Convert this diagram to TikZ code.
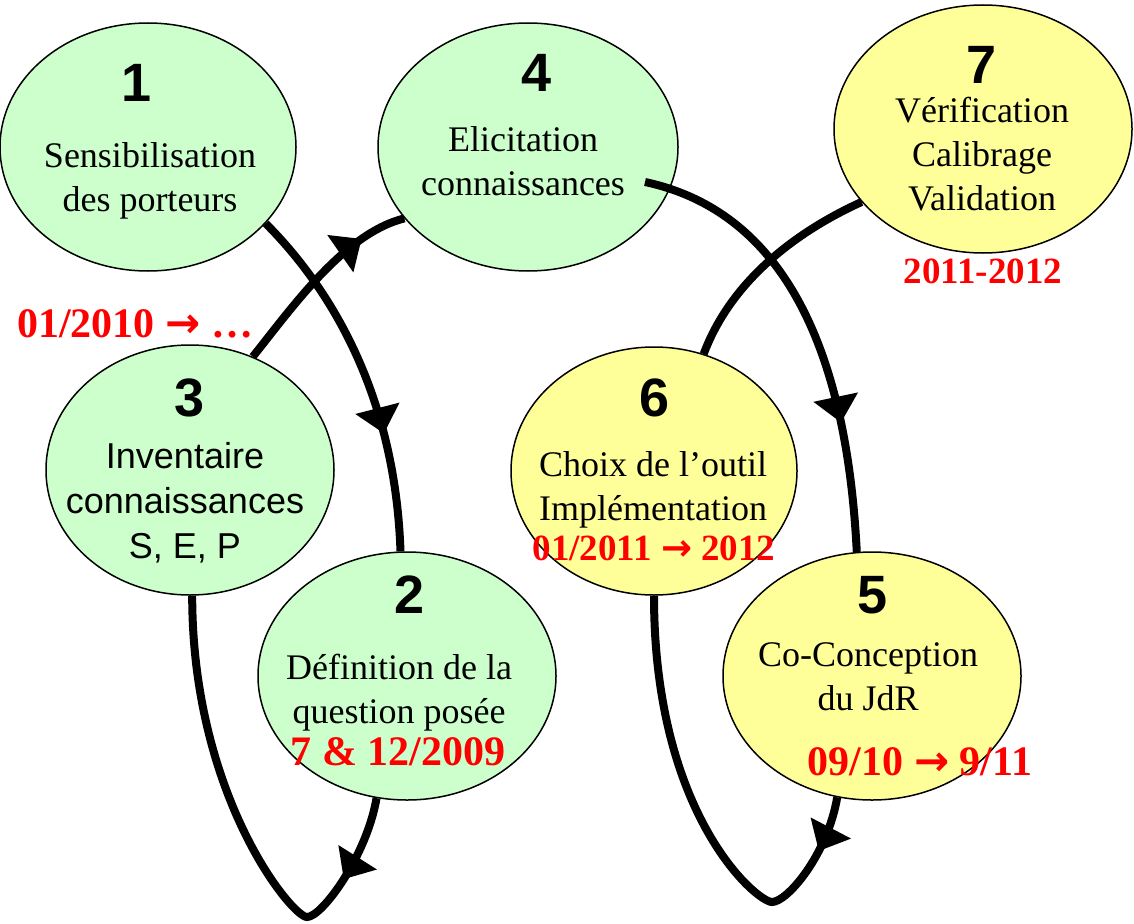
\documentclass[tikz,border=0pt]{standalone}
\usepackage{fontspec}
\setmainfont{Liberation Serif}
\newfontfamily\arialfont{Liberation Sans}
\newfontfamily\symbfont{DejaVu Sans}
\usetikzlibrary{shapes.geometric,arrows.meta,decorations.markings}

\definecolor{paleGreen}{HTML}{CCFFCC}
\definecolor{paleYellow}{HTML}{FFFF99}
\definecolor{dateRed}{HTML}{FF0000}

\newcommand{\toarrow}{{\symbfont\bfseries →}}

\tikzset{
	stage/.style={ellipse, draw, line width=1.5pt, inner sep=0pt},
	num/.style={font=\arialfont\bfseries\fontsize{54}{54}\selectfont, inner sep=0pt},
	txt/.style={font=\fontsize{36}{44}\selectfont, align=center, inner sep=0pt},
	txtsans/.style={font=\arialfont\fontsize{36}{45}\selectfont, align=center, inner sep=0pt},
	date/.style={font=\bfseries\fontsize{42}{48}\selectfont, text=dateRed, inner sep=0pt},
	datesmall/.style={font=\bfseries\fontsize{37}{44}\selectfont, text=dateRed, inner sep=0pt},
	link/.style={line width=8pt},
	midarrow/.style={postaction={decorate, decoration={markings,
		mark=at position #1 with {\arrow{Triangle[width=44pt,length=26pt]}}}}}
}

\begin{document}
\begin{tikzpicture}[x=1pt,y=1pt]
		\useasboundingbox (0,0) rectangle (1134,-923);
		\foreach \n/\x/\y/\w/\h/\c in {1/148/147/296/248/paleGreen, 4/528/147/300/248/paleGreen, 7/983/129/298/248/paleYellow, 3/190/470/288/250/paleGreen, 6/654/471/286/248/paleYellow, 2/407/676/298/248/paleGreen, 5/872/676/298/248/paleYellow}
		{
			\node[stage, fill=\c, minimum width=\w pt, minimum height=\h pt] (e\n) at (\x,-\y) {};
		}
		\foreach \n/\x/\y in {1/137/83, 4/537/73, 7/982/65, 3/190/398, 6/655/398, 2/410/595, 5/873/595}
		{
			\node[num] (n\n) at (\x,-\y) {\n};
		}
		\node[txt, anchor=base] (t1) at (150,-211) {Sensibilisation\\des porteurs};
		\node[txt, anchor=base] (t4) at (523,-195) {Elicitation\\connaissances};
		\node[txt, anchor=base] (t7) at (982,-210) {Vérification\\Calibrage\\Validation};
		\node[txtsans, anchor=base] (t3) at (185,-558) {Inventaire\\connaissances\\S, E, P};
		\node[txt, anchor=base] (t6) at (653,-520) {Choix de l’outil\\Implémentation};
		\node[txt, anchor=base] (t2) at (399,-723) {Définition de la\\question posée};
		\node[txt, anchor=base] (t5) at (868,-710) {Co-Conception\\du JdR};
		\node[date, anchor=base west] (d3) at (17,-337) {01/2010 \toarrow{} …};
		\node[date, anchor=base] (d2) at (398,-765) {7 \& 12/2009};
		\node[datesmall, anchor=base] (d6) at (654,-560) {01/2011 \toarrow{} 2012};
		\node[date, anchor=base] (d5) at (920,-775) {09/10 \toarrow{} 9/11};
		\node[datesmall, anchor=base] (d7) at (983,-283) {2011-2012};
		\coordinate (c4) at (645,-182);
		\coordinate (b2) at (307,-917);
		\coordinate (b5) at (772,-902);
		\draw[link, midarrow=244pt] (e1.-33) .. controls +(70,-70) and +(-5,150) .. (e2.93);
		\draw[link, midarrow=161pt] (e3.61) .. controls +(40,50) and +(-60,-15) .. (e4.210);
		\draw[link, midarrow=330pt] (c4) .. controls +(140,-30) and +(-10,200) .. (e5.97);
		\draw[link] (e6.67) .. controls +(30,80) and +(-55,-25) .. (e7.211);
		\draw[link, midarrow=88pt] (e2.-104) .. controls +(-10,-58) and +(15,0) .. (b2) .. controls +(-15,0) and +(0,-200) .. (e3.-89);
		\draw[link, midarrow=57pt] (e5.-106) .. controls +(-10,-58) and +(15,0) .. (b5) .. controls +(-15,0) and +(0,-220) .. (e6.-90);
	\end{tikzpicture}
\end{document}
